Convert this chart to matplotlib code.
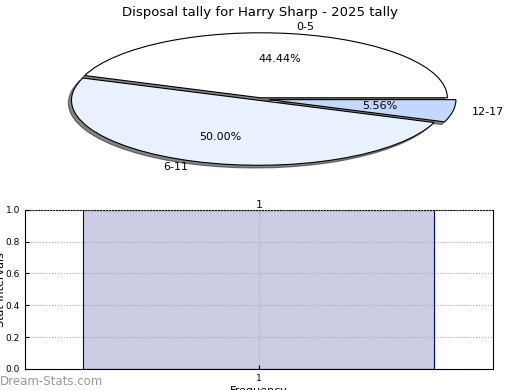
import matplotlib
matplotlib.use('Agg')
import matplotlib.pyplot as plt

# pie data
labels = ['0-5', '6-11', '12-17']
sizes = [44.44, 50.00, 5.56]
pie_colors = ['#FFFFFF', '#EAF1FE', '#C4D8FD']
explode = [0.02, 0.02, 0.05]

# bar data
bar_x = [1]
bar_h = [1]
bar_labels = ['1']

fig = plt.figure(figsize=(5.2, 3.9), dpi=100)

ax1 = fig.add_axes([0.068, 0.546, 0.863, 0.4])
wedges, texts, autotexts = ax1.pie(sizes, labels=labels, colors=pie_colors, explode=explode,
                                   autopct='%1.2f%%', startangle=0,
                                   shadow={'ox': -0.012, 'oy': -0.03, 'shade': 0.95},
                                   wedgeprops={'edgecolor': 'black', 'linewidth': 0.8},
                                   textprops={'fontsize': 8})
ax1.set_aspect('auto')
ax1.set_xlim(-1.2, 1.2)
ax1.set_ylim(-1.2, 1.2)
ax1.set_title('Disposal tally for Harry Sharp - 2025 tally', fontsize=9.5, pad=4)

ax2 = fig.add_axes([0.048, 0.054, 0.9, 0.408])
bars = ax2.bar(bar_x, bar_h, width=0.75, color='#CCCCE5', edgecolor='#000080', linewidth=0.8)
for b, t in zip(bars, bar_labels):
    ax2.text(b.get_x() + b.get_width() / 2, b.get_height(), t, ha='center', va='bottom',
             color='#000080', fontsize=8)
ax2.set_xlim(0.5, 1.5)
ax2.set_ylim(0, 1.0)
ax2.set_xticks([1])
ax2.set_yticks([0.0, 0.2, 0.4, 0.6, 0.8, 1.0])
ax2.tick_params(labelsize=6.5, direction='in', length=3)
ax2.grid(True, linestyle=':', color='#aaaaaa', linewidth=0.8)
ax2.set_axisbelow(False)
ax2.set_xlabel('Frequency', fontsize=8, labelpad=2)
ax2.set_ylabel('Stat Intervals', fontsize=8, labelpad=0)

fig.text(0.0, 0.005, 'Dream-Stats.com', fontsize=8.5, color='#999999', ha='left', va='bottom')

fig.savefig('out.png', dpi=100)
